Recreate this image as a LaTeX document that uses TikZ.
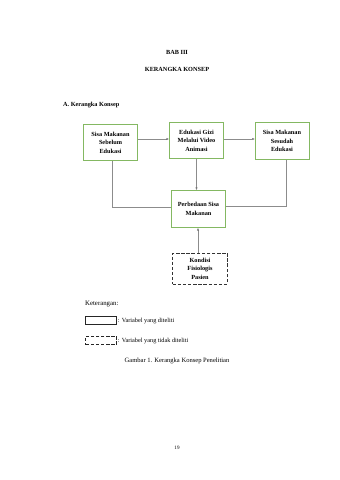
\documentclass[tikz,border=0pt]{standalone}
\usepackage{fontspec}
\setmainfont{Liberation Serif}
\usetikzlibrary{arrows.meta}
\definecolor{boxgreen}{HTML}{84B862}
\definecolor{lingray}{HTML}{8C8C8C}
\begin{document}
\begin{tikzpicture}[x=1.756pt,y=-1.756pt,
  varbox/.style={draw=boxgreen,line width=1.3pt,fill=white,align=center,inner sep=0pt,
     font=\fontsize{11}{15}\selectfont\bfseries},
  dashbox/.style={draw=black!80,dash pattern=on 6pt off 3pt,line width=1.1pt,fill=white,align=center,inner sep=0pt,
     font=\fontsize{11}{15}\selectfont\bfseries},
  conn/.style={draw=lingray,line width=0.6pt},
  arr/.style={conn,-{Triangle[length=4pt,width=3.5pt,fill=black!80]}},
  txt/.style={font=\fontsize{12}{14}\selectfont,inner sep=0pt},
  btxt/.style={font=\fontsize{11}{14}\selectfont\bfseries,inner sep=0pt}]
\useasboundingbox[fill=white] (0,0) rectangle (339,480);
% titles
\node[btxt] (bab) at (177,52) {BAB III};
\node[btxt] (judul) at (177,69) {KERANGKA KONSEP};
\node[btxt,anchor=west] (sub) at (63,105) {A. Kerangka Konsep};
% boxes
\node[varbox,minimum width=96pt,minimum height=64pt] (b1) at (110.5,142.5) {Sisa Makanan\\Sebelum\\Edukasi};
\node[varbox,minimum width=96pt,minimum height=64pt] (b2) at (196.5,140.5) {Edukasi Gizi\\Melalui Video\\Animasi};
\node[varbox,minimum width=95pt,minimum height=66pt] (b3) at (282,141) {Sisa Makanan\\Sesudah\\Edukasi};
\node[varbox,minimum width=95pt,minimum height=66pt] (b4) at (198.5,209) {Perbedaan Sisa\\Makanan};
\node[dashbox,minimum width=96pt,minimum height=54pt] (b5) at (200,268.5) {Kondisi\\Fisiologis\\Pasien};
% connectors
\draw[arr] (b1.east |- 0,139) -- (b2.west |- 0,139);
\draw[arr] (b2.east |- 0,139) -- (b3.west |- 0,139);
\draw[arr] (b2.south) -- (b2.south |- b4.north);
\draw[conn] (b1.south -| 111.7,0) -- (111.7,207.5) -- (b4.west |- 0,207.5);
\draw[conn] (b3.south -| 285.7,0) -- (285.7,206) -- (b4.east |- 0,206);
\draw[arr] (b5.north -| 198,0) -- (b4.south -| 198,0);
% legend
\node[txt,anchor=west] (ket) at (85,304) {Keterangan:};
\node[draw=black!85,line width=1.1pt,minimum width=54pt,minimum height=15pt,inner sep=0pt] (l1) at (101,320.5) {};
\node[txt,anchor=west,font=\fontsize{11}{13}\selectfont,xshift=2pt] (l1t) at (l1.east) {: Variabel yang diteliti};
\node[draw=black!85,dash pattern=on 6pt off 3pt,line width=1.1pt,minimum width=54pt,minimum height=15pt,inner sep=0pt] (l2) at (101,340.5) {};
\node[txt,anchor=west,font=\fontsize{11}{13}\selectfont,xshift=2pt] (l2t) at (l2.east) {: Variabel yang tidak diteliti};
\node[txt,font=\fontsize{11.5}{13}\selectfont] (cap) at (177,360.5) {Gambar 1. Kerangka Konsep Penelitian};
\node[txt,font=\fontsize{9}{11}\selectfont] (pg) at (177,448) {19};
\end{tikzpicture}
\end{document}
